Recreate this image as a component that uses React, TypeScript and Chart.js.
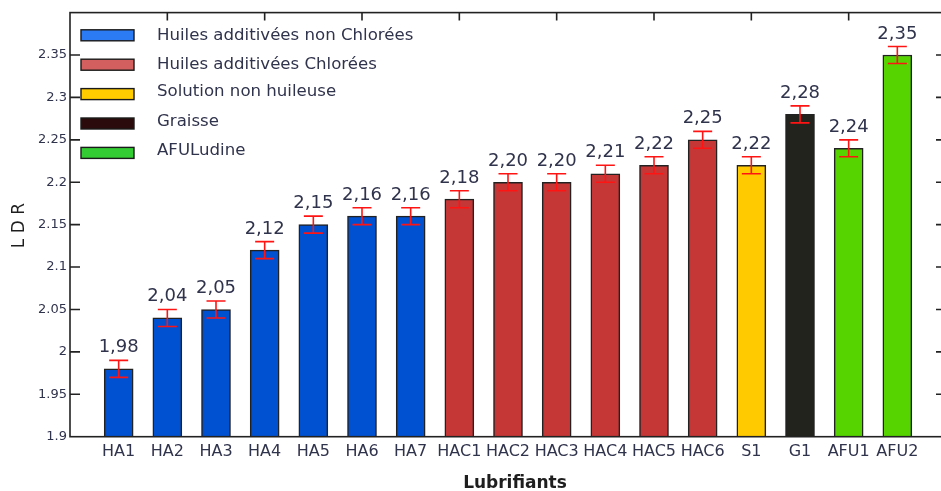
import React, { useEffect, useRef } from "react";
import { Chart, registerables } from "chart.js";

Chart.register(...registerables);

// ---- data ----
const categories = ["HA1", "HA2", "HA3", "HA4", "HA5", "HA6", "HA7", "HAC1", "HAC2", "HAC3", "HAC4", "HAC5", "HAC6", "S1", "G1", "AFU1", "AFU2"];
const ldrValues = [1.98, 2.04, 2.05, 2.12, 2.15, 2.16, 2.16, 2.18, 2.2, 2.2, 2.21, 2.22, 2.25, 2.22, 2.28, 2.24, 2.35];
const errorValues = [0.01, 0.01, 0.01, 0.01, 0.01, 0.01, 0.01, 0.01, 0.01, 0.01, 0.01, 0.01, 0.01, 0.01, 0.01, 0.01, 0.01];
const barGroup = [0, 0, 0, 0, 0, 0, 0, 1, 1, 1, 1, 1, 1, 2, 3, 4, 4];
const groupNames = ["Huiles additivées non Chlorées", "Huiles additivées Chlorées", "Solution non huileuse", "Graisse", "AFULudine"];
const barColors = ["#0051D2", "#C53737", "#FFCA00", "#22231C", "#55D400"];
const legendColors = ["#2B7BF5", "#D35F5F", "#FFCC00", "#2B0B0B", "#33CC33"];
const yMin = 1.9;
const yMax = 2.4;
const yStep = 0.05;
const xMin = 0;
const xMax = 18;
const topTickValues = [2, 4, 6, 8, 10, 12, 14, 16];
const yTitle = "L D R";
const xTitle = "Lubrifiants";

const FONT = '"DejaVu Sans", Verdana, sans-serif';
const TEXT = "#30334C";

const fmtComma = (v: number) => v.toFixed(2).replace(".", ",");

const decorPlugin = {
  id: "decor",
  afterDatasetsDraw(chart: any) {
    const ctx = chart.ctx as CanvasRenderingContext2D;
    const { left, right, top, bottom } = chart.chartArea;
    const xs = chart.scales.x;
    const ys = chart.scales.y;
    const meta = chart.getDatasetMeta(0);
    ctx.save();

    // error bars + value labels
    meta.data.forEach((bar: any, i: number) => {
      const cx = bar.x;
      const hi = ys.getPixelForValue(ldrValues[i] + errorValues[i]);
      const lo = ys.getPixelForValue(ldrValues[i] - errorValues[i]);
      ctx.strokeStyle = "#FF1414";
      ctx.lineWidth = 1.6;
      ctx.beginPath();
      ctx.moveTo(cx, hi);
      ctx.lineTo(cx, lo);
      ctx.moveTo(cx - 9.5, hi);
      ctx.lineTo(cx + 9.5, hi);
      ctx.moveTo(cx - 9.5, lo);
      ctx.lineTo(cx + 9.5, lo);
      ctx.stroke();

      ctx.fillStyle = TEXT;
      ctx.font = `18px ${FONT}`;
      ctx.textAlign = "center";
      ctx.textBaseline = "alphabetic";
      ctx.fillText(fmtComma(ldrValues[i]), cx, hi - 8);
    });

    // frame
    ctx.strokeStyle = "#222222";
    ctx.lineWidth = 1.6;
    ctx.strokeRect(left, top, right - left, bottom - top);

    // inward ticks on y (left & right)
    ctx.beginPath();
    ys.ticks.forEach((t: any) => {
      if (t.value <= yMin + 1e-6 || t.value >= yMax - 1e-6) return;
      const py = ys.getPixelForValue(t.value);
      ctx.moveTo(left, py);
      ctx.lineTo(left + 10, py);
      ctx.moveTo(right, py);
      ctx.lineTo(right - 10, py);
    });
    // top ticks
    topTickValues.forEach((v) => {
      const px = xs.getPixelForValue(v);
      ctx.moveTo(px, top);
      ctx.lineTo(px, top + 8);
    });
    ctx.stroke();

    // legend
    const boxX = left + 11;
    groupNames.forEach((name, i) => {
      const cy = top + 22.7 + i * 29.4;
      ctx.fillStyle = legendColors[i];
      ctx.fillRect(boxX, cy - 5.5, 53, 11);
      ctx.strokeStyle = "#1A1A1A";
      ctx.lineWidth = 1.4;
      ctx.strokeRect(boxX, cy - 5.5, 53, 11);
      ctx.fillStyle = TEXT;
      ctx.font = `16.6px ${FONT}`;
      ctx.textAlign = "left";
      ctx.textBaseline = "middle";
      ctx.fillText(name, left + 87, cy - (i >= 2 ? 2 : 0));
    });

    // axis titles
    ctx.fillStyle = "#1E1E1E";
    ctx.font = `17px ${FONT}`;
    ctx.textAlign = "center";
    ctx.textBaseline = "middle";
    ctx.save();
    ctx.translate(20, (top + bottom) / 2 + 1);
    ctx.rotate(-Math.PI / 2);
    ctx.fillText(yTitle, 0, 0);
    ctx.restore();

    ctx.font = `bold 17px ${FONT}`;
    ctx.textBaseline = "alphabetic";
    ctx.fillText(xTitle, (left + right) / 2 + 7, chart.height - 3);

    ctx.restore();
  },
};

export default function App() {
  const ref = useRef<HTMLCanvasElement | null>(null);

  useEffect(() => {
    document.body.style.margin = "0";
    if (!ref.current) return;
    Chart.defaults.font.family = FONT;
    const chart = new Chart(ref.current, {
      type: "bar",
      data: {
        datasets: [
          {
            data: ldrValues.map((v, i) => ({ x: i + 1, y: v })),
            backgroundColor: barGroup.map((g) => barColors[g]),
            borderColor: "#222222",
            borderWidth: 1.5,
            barThickness: 29,
          } as any,
        ],
      },
      options: {
        responsive: false,
        animation: false,
        layout: { padding: { top: 12.6, right: 14, left: 0, bottom: 0 } },
        plugins: {
          legend: { display: false },
          tooltip: { enabled: false },
          title: { display: false },
        },
        scales: {
          x: {
            type: "linear",
            min: xMin,
            max: xMax,
            offset: false,
            grid: { display: false, drawTicks: false, offset: false } as any,
            border: { display: false },
            ticks: {
              stepSize: 1,
              autoSkip: false,
              maxRotation: 0,
              minRotation: 0,
              padding: 6,
              color: TEXT,
              font: { family: FONT, size: 16 },
              callback: (v: any) => categories[Math.round(Number(v)) - 1] ?? "",
            },
            afterFit: (s: any) => {
              s.height = 54.3;
            },
          },
          y: {
            type: "linear",
            min: yMin,
            max: yMax,
            grid: { display: false, drawTicks: false },
            border: { display: false },
            ticks: {
              stepSize: yStep,
              padding: 3,
              color: TEXT,
              font: { family: FONT, size: 13 },
              callback: (v: any) => {
                const n = Number(v);
                if (Math.abs(n - yMax) < 1e-6) return "";
                return String(Math.round(n * 100) / 100);
              },
            },
            afterFit: (s: any) => {
              s.width = 70;
            },
          },
        },
      },
      plugins: [decorPlugin],
    });
    return () => chart.destroy();
  }, []);

  return (
    <div style={{ width: 941, height: 491, overflow: "hidden", background: "#fff" }}>
      <canvas ref={ref} width={960} height={491} style={{ display: "block" }} />
    </div>
  );
}
